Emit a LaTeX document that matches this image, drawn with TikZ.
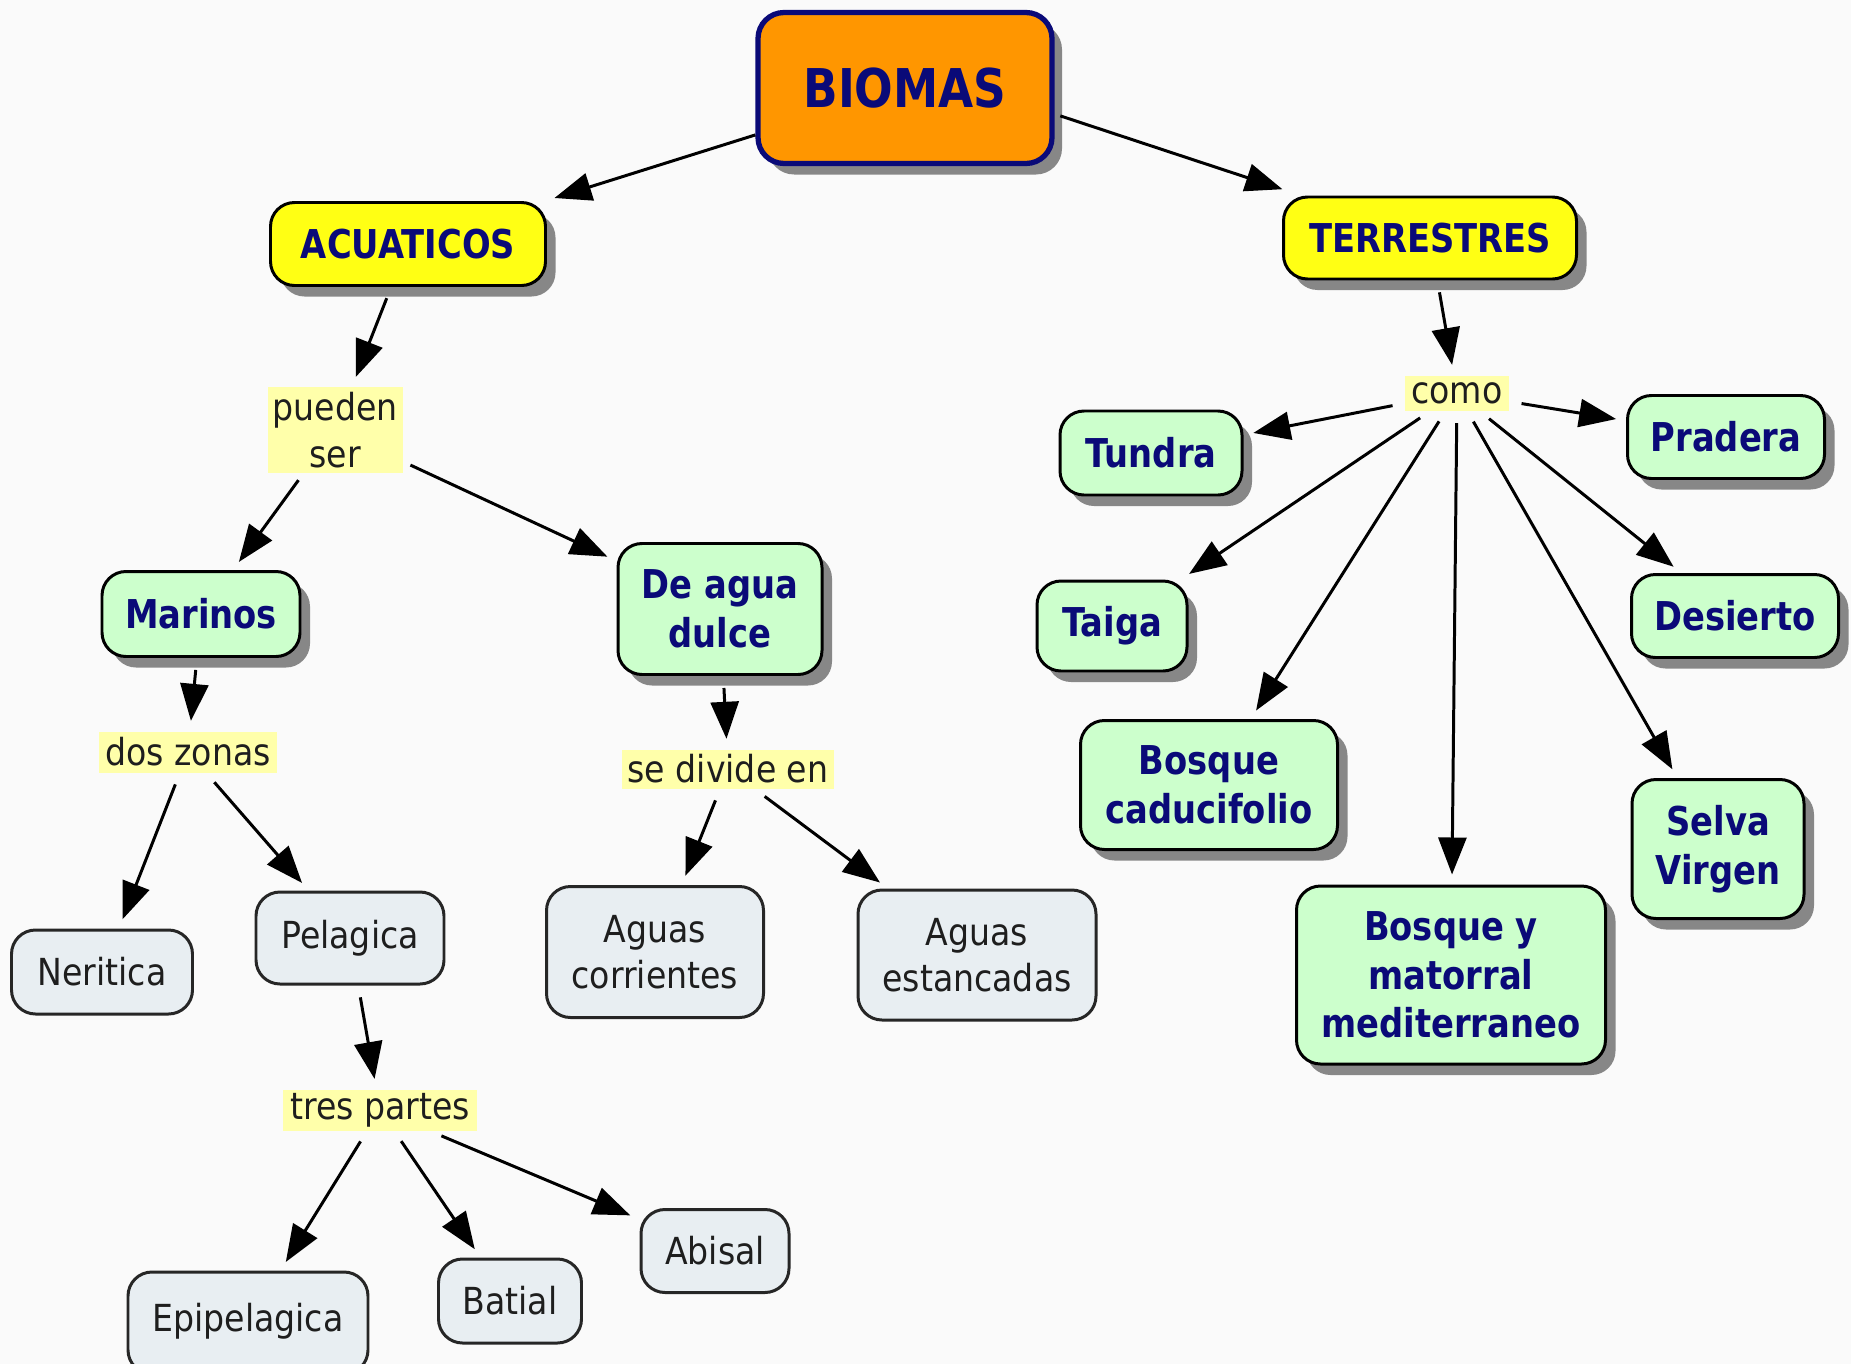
\documentclass[tikz,border=0pt]{standalone}
\usepackage{fontspec}
\setmainfont{DejaVu Sans}[FakeStretch=0.89]
\newfontfamily\bfam{DejaVu Sans}[FakeStretch=0.85]
\usetikzlibrary{arrows.meta,shadows}
\definecolor{bgc}{RGB}{250,250,250}
\definecolor{orangec}{RGB}{255,150,0}
\definecolor{navyc}{RGB}{10,10,120}
\definecolor{yellowc}{RGB}{255,255,20}
\definecolor{greenc}{RGB}{204,255,204}
\definecolor{grayc}{RGB}{232,238,242}
\definecolor{hlc}{RGB}{255,255,170}
\definecolor{textc}{RGB}{30,30,30}
\definecolor{shadowc}{RGB}{135,135,135}
\tikzset{
  base/.style={rounded corners=2.4mm, inner sep=0pt, align=center, line width=0.85pt},
  sh/.style={drop shadow={shadow xshift=1mm, shadow yshift=-1.1mm, fill=shadowc, opacity=1}},
  topc/.style={base, sh, fill=orangec, draw=navyc, line width=1.5pt, rounded corners=2.6mm, text=navyc,
    font={\bfam\bfseries\fontsize{15.2}{18}\selectfont}},
  cat/.style={base, sh, fill=yellowc, draw=black, text=navyc,
    font={\bfam\bfseries\fontsize{11.3}{13.8}\selectfont}},
  biome/.style={base, sh, fill=greenc, draw=black, text=navyc,
    font={\bfam\bfseries\fontsize{11.3}{13.8}\selectfont}},
  leaf/.style={base, fill=grayc, draw=black!85, text=textc,
    font={\fontsize{10.6}{13.2}\selectfont}},
  linkw/.style={inner sep=0pt, fill=hlc, text=textc, align=center,
    font={\fontsize{10.6}{13.4}\selectfont}},
  arr/.style={-{Triangle[length=3.7mm,width=2.8mm]}, line width=0.85pt, shorten <=1.2mm, shorten >=1mm},
}
\begin{document}
\begin{tikzpicture}[x=0.1mm,y=-0.1mm]
\fill[bgc] (0,0) rectangle (1851,1364);
\useasboundingbox (0,0) rectangle (1851,1364);
% top
\node[topc, minimum width=29.4mm, minimum height=15.1mm] (biomas) at (905,88) {BIOMAS};
\node[cat, minimum width=27.5mm, minimum height=8.3mm] (acuat) at (408,244) {ACUATICOS};
\node[cat, minimum width=29.3mm, minimum height=8.2mm] (terr) at (1430,238) {TERRESTRES};
% aquatic branch
\node[linkw, minimum width=13.5mm, minimum height=8.6mm] (pueden) at (335,430) {pueden\\ser};
\node[biome, minimum width=19.8mm, minimum height=8.5mm] (marinos) at (201,614) {Marinos};
\node[biome, minimum width=20.4mm, minimum height=13.1mm] (dulce) at (720,609) {De agua\\dulce};
\node[linkw, minimum width=17.8mm, minimum height=4.1mm] (dos) at (188,752) {dos zonas};
\node[linkw, minimum width=21.2mm, minimum height=3.9mm] (divide) at (728,769) {se divide en};
\node[leaf, minimum width=18.1mm, minimum height=8.4mm] (neritica) at (102,972) {Neritica};
\node[leaf, minimum width=18.8mm, minimum height=9.2mm] (pelagica) at (350,938) {Pelagica};
\node[leaf, minimum width=21.7mm, minimum height=13.1mm] (corr) at (655,952) {Aguas\\corrientes};
\node[leaf, minimum width=23.8mm, minimum height=13mm] (estan) at (977,955) {Aguas\\estancadas};
\node[linkw, minimum width=19.4mm, minimum height=4.1mm] (tres) at (380,1110) {tres partes};
\node[leaf, minimum width=24mm, minimum height=10.2mm, text depth=0pt] (epi) at (248,1323) {\raisebox{1.2mm}{Epipelagica}};
\node[leaf, minimum width=14.3mm, minimum height=8.4mm] (batial) at (510,1301) {Batial};
\node[leaf, minimum width=14.8mm, minimum height=8.3mm] (abisal) at (715,1251) {Abisal};
% terrestrial branch
\node[linkw, minimum width=10.4mm, minimum height=3.5mm] (como) at (1457,393) {como};
\node[biome, minimum width=18.2mm, minimum height=8.4mm] (tundra) at (1151,453) {Tundra};
\node[biome, minimum width=19.7mm, minimum height=8.3mm] (pradera) at (1726,437) {Pradera};
\node[biome, minimum width=15mm, minimum height=9mm] (taiga) at (1112,626) {Taiga};
\node[biome, minimum width=20.7mm, minimum height=8.3mm] (desierto) at (1735,616) {Desierto};
\node[biome, minimum width=25.7mm, minimum height=12.9mm] (caduc) at (1209,785) {Bosque\\caducifolio};
\node[biome, minimum width=17.2mm, minimum height=13.9mm] (selva) at (1718,849) {Selva\\Virgen};
\node[biome, minimum width=30.9mm, minimum height=17.8mm] (bym) at (1451,975) {Bosque y\\matorral\\mediterraneo};
% connectors
\draw[arr, shorten <=0mm] (biomas) -- (acuat);
\draw[arr, shorten <=0.6mm, shorten >=2mm] ([yshift=-2.6mm]biomas.east) -- (terr);
\draw[arr] (acuat) -- (pueden);
\draw[arr, shorten <=0.8mm] (pueden) -- (marinos);
\draw[arr, shorten <=0.8mm] (pueden) -- (dulce);
\draw[arr] (marinos) -- (dos);
\draw[arr] (dulce) -- (divide);
\draw[arr] (dos) -- (neritica);
\draw[arr] (dos) -- (pelagica);
\draw[arr] (divide) -- (corr);
\draw[arr] (divide) -- (estan);
\draw[arr] (pelagica) -- (tres);
\draw[arr] (tres) -- (epi);
\draw[arr] (tres) -- (batial);
\draw[arr] (tres) -- (abisal);
\draw[arr] (terr) -- (como);
\draw[arr] (como) -- (tundra);
\draw[arr] (como) -- (pradera);
\draw[arr] (como) -- (taiga);
\draw[arr] (como) -- (desierto);
\draw[arr] (como) -- (caduc);
\draw[arr] (como) -- (bym);
\draw[arr] (como) -- (selva);
\end{tikzpicture}
\end{document}
